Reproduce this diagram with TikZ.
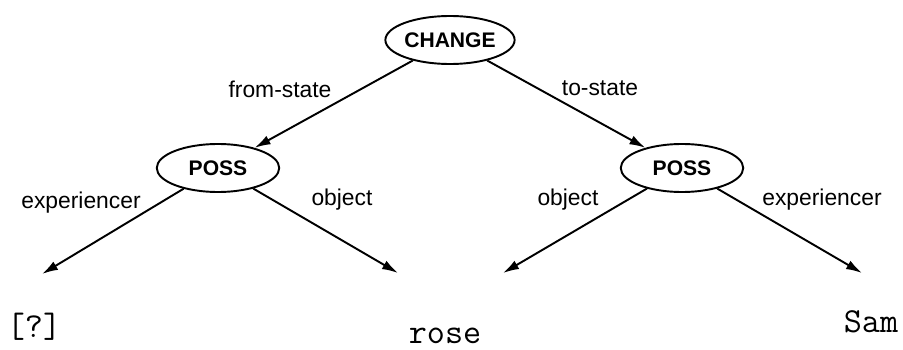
\documentclass[tikz,border=0pt]{standalone}
\usepackage{fontspec}
\setmainfont{Liberation Sans}
\usepackage{tikz}
\usetikzlibrary{arrows.meta,shapes.geometric}

\begin{document}
\begin{tikzpicture}[
        concept/.style={draw, ellipse, line width=1.1pt, inner sep=0pt, minimum width=2.45cm, minimum height=0.96cm, font=\fontsize{12}{14}\selectfont\bfseries},
        rel/.style={font=\fontsize{13}{15}\selectfont},
        filler/.style={anchor=base, font=\fontsize{20}{24}\selectfont\ttfamily},
        arrow/.style={-{Latex[length=3.2mm, width=1.9mm]}, line width=1.1pt}
    ]
    \useasboundingbox (0,0) rectangle (18.06,6.98);

    % conceptual dependency tree
    \node[concept] (change) at (9.00,6.18) {CHANGE};
    \node[concept] (possL) at (4.36,3.62) {POSS};
    \node[concept] (possR) at (13.64,3.62) {POSS};

    % loose arrow ends above the fillers
    \coordinate (expL) at (0.84,1.50);
    \coordinate (objL) at (7.96,1.52);
    \coordinate (objR) at (10.06,1.52);
    \coordinate (expR) at (17.24,1.52);

    \draw[arrow] (change) -- (possL);
    \draw[arrow] (change) -- (possR);
    \draw[arrow] (possL) -- (expL);
    \draw[arrow] (possL) -- (objL);
    \draw[arrow] (possR) -- (objR);
    \draw[arrow] (possR) -- (expR);

    % role labels
    \node[rel] (from) at (5.60,5.20) {from-state};
    \node[rel] (to) at (12.00,5.22) {to-state};
    \node[rel] (lexp) at (1.62,2.92) {experiencer};
    \node[rel] (lobj) at (6.84,2.98) {object};
    \node[rel] (robj) at (11.36,2.98) {object};
    \node[rel] (rexp) at (16.44,2.98) {experiencer};

    % fillers
    \node[filler] (unknown) at (0.68,0.24) {[?]};
    \node[filler] (rose) at (8.90,0.12) {rose};
    \node[filler] (sam) at (17.42,0.34) {Sam};
\end{tikzpicture}
\end{document}
